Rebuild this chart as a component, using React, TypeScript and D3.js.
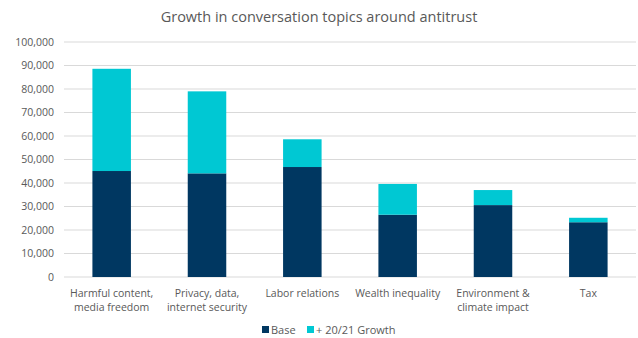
import React from "react";
import * as d3 from "d3";

const categories = [
  ["Harmful content,", "media freedom"],
  ["Privacy, data,", "internet security"],
  ["Labor relations"],
  ["Wealth inequality"],
  ["Environment &", "climate impact"],
  ["Tax"],
];
const baseValues = [45100, 44100, 46800, 26500, 30600, 23300];
const growthValues = [43500, 34900, 11800, 13100, 6400, 1900];
const yTicks = [0, 10000, 20000, 30000, 40000, 50000, 60000, 70000, 80000, 90000, 100000];
const seriesNames = ["Base", "+ 20/21 Growth"];
const colors = ["#003761", "#00C8D3"];

export default function App() {
  const W = 638, H = 338;
  const left = 64, right = 636, top = 42, bottom = 277;
  const x = d3.scaleBand<number>().domain(d3.range(categories.length)).range([left, right]).paddingInner(0.596).paddingOuter(0.298);
  const y = d3.scaleLinear().domain([0, 100000]).range([bottom, top]);
  const fmt = d3.format(",");
  const font = "Open Sans, Liberation Sans, sans-serif";
  const textColor = "#595959";
  return (
    <svg width={W} height={H} style={{ position: "absolute", left: 0, top: 0, background: "#fff" }} fontFamily={font}>
      <text x={W / 2} y={22} textAnchor="middle" fontSize={14.5} fill={textColor}>Growth in conversation topics around antitrust</text>
      {yTicks.map((t) => (
        <g key={t}>
          <line x1={left} x2={right} y1={y(t)} y2={y(t)} stroke="#d9d9d9" strokeWidth={1} />
          <text x={54} y={y(t)} dy="0.35em" textAnchor="end" fontSize={10.5} fill={textColor}>{fmt(t)}</text>
        </g>
      ))}
      {categories.map((c, i) => {
        const bx = x(i)!;
        const bw = x.bandwidth();
        const b = baseValues[i];
        const g = growthValues[i];
        return (
          <g key={i}>
            <rect x={bx} width={bw} y={y(b)} height={y(0) - y(b)} fill={colors[0]} />
            <rect x={bx} width={bw} y={y(b + g)} height={y(b) - y(b + g)} fill={colors[1]} />
            {c.map((line, k) => (
              <text key={k} x={bx + bw / 2} y={297 + k * 13.5} textAnchor="middle" fontSize={10.5} fill={textColor}>{line}</text>
            ))}
          </g>
        );
      })}
      <g>
        <rect x={262} y={326} width={7} height={7} fill={colors[0]} />
        <text x={271} y={334} fontSize={11} fill={textColor}>{seriesNames[0]}</text>
        <rect x={307} y={326} width={7} height={7} fill={colors[1]} />
        <text x={316} y={334} fontSize={11} fill={textColor}>{seriesNames[1]}</text>
      </g>
    </svg>
  );
}
